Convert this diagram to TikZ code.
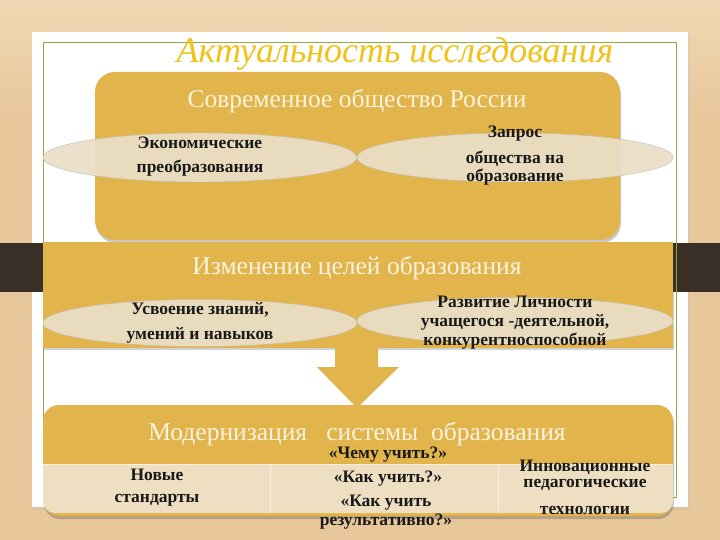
\documentclass[tikz,border=0pt]{standalone}
\usepackage{fontspec}
\setmainfont{Liberation Serif}
\usetikzlibrary{shapes.geometric,shadows}
\definecolor{wood}{HTML}{E8C79B}
\definecolor{woodlight}{HTML}{F0D8B4}
\definecolor{band}{HTML}{3A2F27}
\definecolor{gold}{HTML}{E2B44C}
\definecolor{goldtitle}{HTML}{F0C21A}
\definecolor{cream}{HTML}{EADFC6}
\definecolor{rowcream}{HTML}{EEDFC2}
\definecolor{headtxt}{HTML}{FBF3DE}
\definecolor{frame}{HTML}{8FAA45}
\tikzset{
  goldbox/.style={fill=gold, draw=none},
  oval/.style={ellipse, fill=cream, fill opacity=0.93, draw=gray!50, line width=0.4pt, inner sep=0pt},
  headtext/.style={text=headtxt, font=\fontsize{25.5}{28}\selectfont},
  ovaltext/.style={text=black!90, font=\bfseries\fontsize{17.5}{20}\selectfont},
  celltext/.style={text=black!90, font=\bfseries\fontsize{17.5}{20}\selectfont, inner sep=1pt},
  softshadow/.style={drop shadow={shadow xshift=1pt, shadow yshift=-3pt, opacity=0.3, fill=black!70}}
}
\begin{document}
\begin{tikzpicture}[x=1pt,y=-1pt]
\useasboundingbox (0,0) rectangle (720,540);
% background
\shade[top color=woodlight, bottom color=wood] (0,0) rectangle (720,120);
\fill[wood] (0,120) rectangle (720,540);
% slide panel
\fill[black!25, opacity=0.3] (34,34) rectangle (690,510);
\fill[white] (32,32) rectangle (688,507);
% dark band
\fill[band] (0,243) rectangle (720,292);
% green frame
\draw[frame, line width=0.8pt] (43.5,42.5) rectangle (676.5,497);
% title
\node[text=goldtitle, font=\itshape\fontsize{36}{38}\selectfont] (title) at (395,54) {Актуальность исследования};
% box 1
\fill[goldbox, rounded corners=20pt, softshadow] (95,72) rectangle (620,240);
\node[headtext] (h1) at (357,101) {Современное общество России};
\node[oval, minimum width=314pt, minimum height=49pt] (e1) at (200,157.5) {};
\node[oval, minimum width=316pt, minimum height=49pt] (e2) at (515,157.5) {};
\node[ovaltext] (t1a) at (200,143) {Экономические};
\node[ovaltext] (t1b) at (200,168) {преобразования};
\node[ovaltext] (t2a) at (515,134) {Запрос};
\node[ovaltext] (t2b) at (515,159) {общества на};
\node[ovaltext] (t2c) at (515,177) {образование};
% box 2
\fill[goldbox, drop shadow={shadow xshift=1pt, shadow yshift=-2pt, opacity=0.25, fill=black!70}] (43,242) rectangle (673,348);
\node[headtext] (h2) at (357,268) {Изменение целей образования};
\node[oval, minimum width=314pt, minimum height=47pt] (e3) at (200,323) {};
\node[oval, minimum width=316pt, minimum height=47pt] (e4) at (515,321) {};
\node[ovaltext] (t3a) at (200,310) {Усвоение знаний,};
\node[ovaltext] (t3b) at (200,335) {умений и навыков};
\node[ovaltext] (t4a) at (515,302) {Развитие Личности};
\node[ovaltext] (t4b) at (515,322) {учащегося -деятельной,};
\node[ovaltext] (t4c) at (515,341) {конкурентноспособной};
% arrow
\fill[gold] (335,348) -- (378,348) -- (378,367) -- (399,367) -- (357,408) -- (317,367) -- (335,367) -- cycle;
% box 3
\fill[goldbox, rounded corners=16pt, softshadow] (43,405) rectangle (673,516);
\node[headtext, inner sep=1pt] (h3) at (357,434) {Модернизация \ \ системы \ образования};
\fill[rowcream, rounded corners=12pt] (43,464) rectangle (673,513);
\fill[rowcream] (43,464) rectangle (673,485);
\draw[white!80!gold, line width=0.6pt] (43,464) -- (673,464);
\draw[white!60!rowcream, line width=0.6pt] (270,464) -- (270,513);
\draw[white!60!rowcream, line width=0.6pt] (498,464) -- (498,513);
\node[celltext] (c1a) at (157,475) {Новые};
\node[celltext] (c1b) at (157,500) {стандарты};
\node[celltext] (c2a) at (388,455) {«Чему учить?»};
\node[celltext] (c2b) at (388,479) {«Как учить?»};
\node[celltext] (c2c) at (386,503) {«Как учить};
\node[celltext] (c2d) at (386,522) {результативно?»};
\node[celltext] (c3a) at (585,467) {Инновационные};
\node[celltext] (c3b) at (585,485) {педагогические};
\node[celltext] (c3c) at (585,510) {технологии};
\end{tikzpicture}
\end{document}
